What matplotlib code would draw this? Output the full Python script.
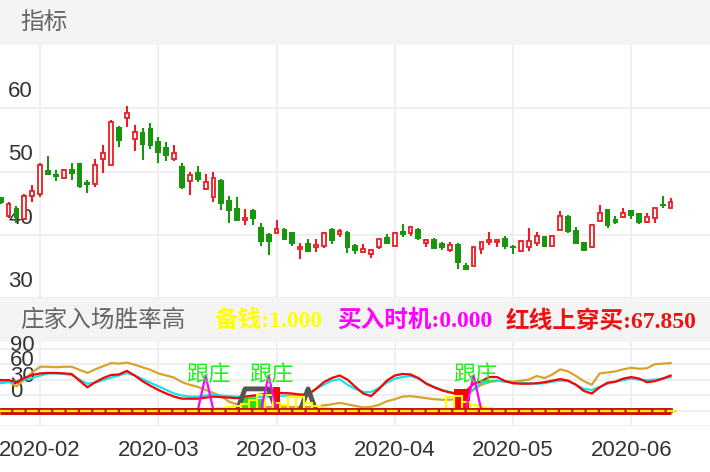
import matplotlib
matplotlib.use('Agg')
import matplotlib.pyplot as plt
from matplotlib.patches import Rectangle
import numpy as np

plt.rcParams['font.family'] = ['Liberation Sans', 'Noto Sans CJK SC']

# daily k-line values
opens = [46.0, 43.0, 44.2, 42.5, 46.2, 46.4, 50.2, 49.6, 48.9, 50.4,
         51.3, 48.3, 48.0, 52.0, 51.0, 57.1, 58.5, 55.2, 56.3, 56.8,
         54.8, 53.9, 52.0, 50.9, 48.5, 49.9, 47.3, 45.9, 48.7, 45.5,
         44.2, 42.3, 43.9, 41.2, 40.1, 40.3, 40.9, 40.4, 37.7, 38.7,
         38.0, 38.2, 40.9, 40.1, 40.5, 38.4, 37.2, 36.9, 38.0, 39.7,
         38.3, 40.6, 40.3, 40.9, 38.7, 39.4, 38.7, 37.6, 38.5, 35.2,
         35.1, 37.7, 38.8, 38.9, 39.5, 38.2, 37.5, 38.1, 38.7, 39.8,
         38.3, 40.8, 42.9, 40.8, 38.9, 38.0, 42.1, 44.0, 42.5, 42.8,
         43.9, 43.4, 42.0, 42.6, 44.9, 44.3]
closes = [45.0, 44.8, 42.6, 46.2, 46.9, 51.0, 49.4, 49.1, 50.2, 49.6,
          47.6, 47.9, 51.0, 53.0, 57.8, 54.8, 59.2, 56.3, 54.2, 54.0,
          52.9, 52.5, 52.9, 47.4, 49.4, 48.6, 48.4, 48.9, 44.9, 43.7,
          42.2, 42.6, 42.5, 38.9, 38.9, 40.9, 39.1, 38.6, 38.1, 37.3,
          38.4, 40.3, 39.0, 40.6, 37.9, 37.5, 37.7, 37.6, 39.4, 38.5,
          40.3, 39.9, 41.2, 39.3, 39.2, 37.8, 37.9, 38.4, 35.5, 34.5,
          38.0, 38.8, 39.1, 39.1, 38.0, 37.9, 39.0, 39.0, 39.8, 38.0,
          39.8, 42.9, 40.4, 38.6, 37.5, 41.6, 43.4, 41.4, 41.9, 43.4,
          42.9, 41.8, 42.8, 44.2, 44.5, 45.1]
highs = [46.0, 45.1, 44.5, 46.4, 47.9, 51.3, 52.4, 50.2, 50.4, 51.4,
         51.4, 48.7, 51.9, 54.2, 58.1, 57.2, 60.4, 57.3, 56.9, 57.6,
         55.4, 54.6, 54.2, 51.3, 50.0, 50.9, 49.6, 49.9, 48.8, 46.1,
         46.0, 44.0, 44.0, 41.8, 40.2, 42.3, 41.0, 40.5, 38.7, 39.3,
         39.4, 40.5, 41.1, 40.9, 40.6, 38.5, 38.5, 37.7, 39.4, 40.1,
         40.4, 41.7, 41.4, 41.1, 39.3, 39.5, 38.9, 38.9, 38.7, 35.6,
         38.1, 38.9, 40.5, 39.4, 39.8, 38.4, 39.2, 41.0, 40.5, 39.8,
         39.8, 43.7, 43.1, 41.2, 38.9, 41.7, 44.7, 44.1, 43.0, 44.2,
         43.9, 43.4, 43.5, 44.3, 46.2, 45.8]
lows = [44.9, 42.7, 41.8, 42.3, 45.1, 45.9, 49.4, 48.5, 48.8, 48.7,
        47.4, 46.6, 47.5, 49.7, 51.0, 53.8, 57.1, 53.2, 51.8, 53.6,
        51.4, 51.6, 51.6, 47.2, 46.3, 48.4, 47.0, 45.1, 43.9, 41.9,
        42.1, 41.5, 41.5, 38.2, 36.8, 40.2, 39.1, 38.2, 36.1, 37.2,
        37.3, 37.9, 38.5, 39.7, 37.1, 37.0, 37.1, 36.3, 37.7, 38.5,
        38.3, 39.7, 39.8, 39.2, 38.1, 37.7, 37.6, 37.2, 34.6, 34.4,
        35.1, 37.0, 38.4, 38.1, 37.7, 37.0, 37.3, 37.4, 38.3, 38.0,
        38.3, 40.7, 40.3, 38.5, 37.5, 37.9, 42.1, 41.0, 41.7, 42.6,
        42.5, 41.7, 41.9, 41.9, 44.3, 44.3]

# indicator lines
red_line = [59, 59, 55, 63, 69, 72, 73, 73, 72, 71,
            58, 45, 55, 63, 69, 70, 77, 68, 57, 48,
            40, 33, 27, 23, 23, 23, 25, 27, 26, 25,
            24, 27, 29, 31, 33, 34, 34, 33, 31, 31,
            42, 55, 63, 68, 60, 46, 33, 28, 42, 58,
            68, 71, 70, 63, 52, 45, 39, 35, 32, 37,
            52, 57, 65, 65, 57, 53, 52, 52, 53, 55,
            58, 61, 58, 50, 38, 33, 45, 54, 56, 62,
            65, 62, 55, 57, 62, 67.85]
cyan_line = [53, 55, 57, 60, 63, 68, 72, 72, 71, 69,
             60, 52, 54, 59, 64, 68, 73, 68, 61, 54,
             47, 40, 33, 29, 27, 27, 29, 31, 29, 28,
             27, 27, 26, 26, 27, 28, 29, 29, 30, 31,
             42, 50, 58, 61, 50, 42, 36, 36, 44, 54,
             62, 65, 67, 62, 53, 46, 40, 36, 33, 32,
             42, 54, 57, 58, 56, 55, 54, 53, 52, 53,
             56, 58, 57, 50, 42, 40, 46, 52, 56, 59,
             62, 60, 59, 60, 62, 64.7]
gold_line = [55, 56, 47, 60, 74, 85, 85, 84, 85, 85,
             79, 73, 80, 86, 92, 91, 93, 89, 84, 79,
             72, 68, 64, 55, 50, 46, 40, 34, 28, 17,
             12, 8, 7, 7, 7, 7, 7, 7, 7, 7,
             8, 10, 12, 15, 12, 9, 6, 7, 11, 18,
             22, 27, 28, 26, 24, 22, 21, 21, 22, 30,
             40, 50, 55, 58, 57, 56, 58, 60, 67, 63,
             70, 80, 76, 67, 57, 50, 72, 74, 76, 80,
             83, 81, 82, 90, 91, 92]

# sparse signals (index: value), zero elsewhere
buy_spikes = {26: 68, 34: 68, 60: 68}
gray_marks = {31: 42, 32: 42, 33: 42, 34: 42, 39: 42}
green_bars = {31: 24, 32: 24, 33: 22}
red_bars = {35: 45, 58: 42, 59: 42}
yellow_bars = {28: 4, 29: 6, 30: 9, 31: 12, 32: 20, 33: 30, 34: 30, 35: 14,
               36: 10, 37: 26, 38: 26, 39: 14, 40: 8, 41: 5, 42: 3, 43: 2,
               57: 26, 58: 28, 59: 16, 60: 10, 61: 6, 62: 4, 63: 3, 64: 2, 65: 1}
follow_text = '跟庄'

tick_idx = [5, 20, 35, 50, 65, 80]
tick_labels = ['2020-02', '2020-03', '2020-03', '2020-04', '2020-05', '2020-06']

legend_items = [('备钱:1.000', '#ffff00', 215),
                ('买入时机:0.000', '#ff00ff', 337),
                ('红线上穿买:67.850', '#f01010', 506)]

n = len(opens)
idx = np.arange(n)
o = np.array(opens); c = np.array(closes)

def dense(d):
    a = np.zeros(n)
    for k, v in d.items():
        a[k] = v
    return a

W, H = 710, 472
fig = plt.figure(figsize=(7.1, 4.72), dpi=100)
fig.patch.set_facecolor('white')

def px_axes(l, t, r, b):
    return fig.add_axes([l / W, 1 - b / H, (r - l) / W, (b - t) / H])

def style(ax):
    ax.grid(True, color='#efefef', lw=1.5, zorder=0)
    ax.set_axisbelow(True)
    ax.tick_params(length=0, labelleft=False, labelbottom=False)
    for s in ax.spines.values():
        s.set_visible(False)

UP = '#ec1c24'
DOWN = '#1a960e'

# gray title bands
for t, b in [(0, 45), (298, 342)]:
    fig.add_artist(Rectangle((0, 1 - b / H), 1, (b - t) / H, transform=fig.transFigure,
                             color='#f4f4f4', zorder=0))
fig.text(20 / W, 1 - 23 / H, '指标', fontsize=17, color='#666666', va='center', ha='left')
fig.text(20 / W, 1 - 321 / H, '庄家入场胜率高', fontsize=17, color='#666666', va='center', ha='left')
for txt, col, x in legend_items:
    fig.text(x / W, 1 - 321 / H, txt, fontsize=17, color=col, va='center', ha='left',
             fontweight='bold', family=['Liberation Serif', 'Noto Sans CJK SC'])

# main k-line chart
ax = px_axes(0, 45, 710, 298)
ax.set_xlim(-0.09, 90)
ax.set_ylim(30, 70)
ax.set_yticks([30, 40, 50, 60])
ax.set_xticks(tick_idx)
style(ax)
for v in [30, 40, 50, 60]:
    ax.annotate(str(v), xy=(0, v), xycoords=('axes fraction', 'data'), xytext=(6, 4.5),
                textcoords='offset points', ha='left', va='bottom', fontsize=16,
                color='#333333', zorder=1)

up = c >= o
ax.vlines(idx, lows, highs, colors=np.where(up, UP, DOWN), lw=1.5, zorder=3)
body_lo = np.minimum(o, c)
body_h = np.maximum(np.abs(c - o), 0.2)
ax.bar(idx[~up], body_h[~up], bottom=body_lo[~up], width=0.74, color=DOWN, zorder=4)
ax.bar(idx[up], body_h[up], bottom=body_lo[up], width=0.48, facecolor='white',
       edgecolor=UP, lw=1.3, zorder=4)

# indicator panel
ax2 = px_axes(0, 342, 710, 426)
ax2.set_xlim(-0.09, 90)
ax2.set_ylim(-30, 133)
ax2.set_yticks([-30, 0, 30, 60, 90, 120])
ax2.set_xticks(tick_idx)
style(ax2)
ax2.tick_params(labelbottom=True, pad=10, labelsize=16, labelcolor='#333333')
ax2.set_xticklabels(tick_labels)
for v in [0, 30, 60, 90]:
    ax2.annotate(str(v), xy=(0, v), xycoords=('axes fraction', 'data'), xytext=(7, 6),
                 textcoords='offset points', ha='left', va='bottom', fontsize=16,
                 color='#333333', zorder=1)

ax2.plot(idx, gold_line, color='#d9a22c', lw=1.6, zorder=2)
ax2.plot(idx, cyan_line, color='#10e6f0', lw=1.6, zorder=2)
ax2.plot(idx, red_line, color='#ff0000', lw=1.6, zorder=2)

ax2.bar(idx, dense(green_bars), width=1.0, color='#22dd22', zorder=3)
ax2.plot(idx, dense(gray_marks), color='#555555', lw=3.5, solid_joinstyle='round', zorder=4)
ax2.bar(idx, dense(red_bars), width=1.0, color='#ff0000', zorder=5)
ax2.bar(idx, dense(yellow_bars), width=1.0, facecolor='none', edgecolor='#ffff00', lw=1.5, zorder=6)
ax2.plot(idx, dense(buy_spikes), color='#ff00ff', lw=1.6, zorder=7)
for k, v in buy_spikes.items():
    ax2.text(k + 0.3, v, follow_text, color='#1ef01e', fontsize=16, ha='center', va='center', zorder=8)

# zero band
ax2.plot([idx[0] - 0.1, idx[-1]], [0, 0], color='#c81400', lw=5, solid_capstyle='butt', zorder=9)
ax2.plot([idx[0] - 0.1, idx[-1] + 0.8], [0, 0], color='#ffee00', lw=1.6, dashes=(5, 1),
         solid_capstyle='butt', zorder=10)

fig.savefig('out.png', dpi=100)
